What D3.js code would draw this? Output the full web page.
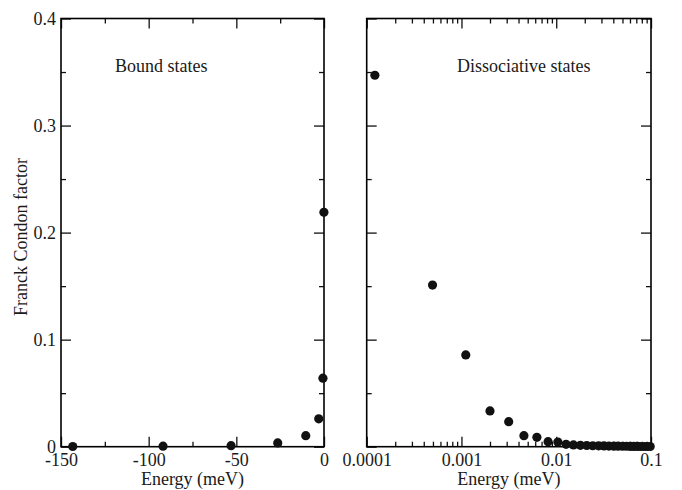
<!DOCTYPE html>
<html>
<head>
<meta charset="utf-8">
<script src="https://cdn.jsdelivr.net/npm/d3@7"></script>
<style>
  html, body { margin: 0; padding: 0; background: #fff; }
  svg { display: block; }
  text { font-family: "Liberation Serif", "Times New Roman", serif; fill: #1a1a1a; }
</style>
</head>
<body>
<svg id="chart" width="682" height="490"></svg>
<script>
// Bound states: energy (meV) and Franck-Condon factor
const boundEnergy = [-143.3, -91.8, -53.0, -26.4, -10.4, -3.0, -0.6, -0.05];
const boundFC     = [0.0002, 0.0005, 0.001, 0.0035, 0.0103, 0.026, 0.064, 0.219];

// Dissociative states: energy (meV) and Franck-Condon factor
const dissEnergy = [0.000122, 0.000495, 0.00111, 0.0020, 0.00315, 0.00456, 0.00625, 0.0082,
                    0.0104, 0.0127, 0.0152, 0.018, 0.021, 0.0243, 0.028, 0.032, 0.036,
                    0.0405, 0.045, 0.050, 0.055, 0.0605, 0.066, 0.072, 0.078, 0.0845,
                    0.091, 0.098];
const dissFC     = [0.347, 0.151, 0.0857, 0.0334, 0.0234, 0.0103, 0.0088, 0.0047,
                    0.0044, 0.0022, 0.0017, 0.0013, 0.0011, 0.0009, 0.0008, 0.0007, 0.0006,
                    0.0005, 0.0005, 0.0004, 0.0004, 0.0003, 0.0003, 0.0003, 0.0002, 0.0002,
                    0.0002, 0.0002];

// Tick values
const yMajor = [0, 0.1, 0.2, 0.3, 0.4];
const yMinor = [0.05, 0.15, 0.25, 0.35];
const boundMajor = [-150, -100, -50, 0];
const boundMinor = [-125, -75, -25];
const dissMajor = [0.0001, 0.001, 0.01, 0.1];

const titleBound = "Bound states";
const titleDiss = "Dissociative states";
const xTitle = "Energy (meV)";
const yTitle = "Franck Condon factor";

const svg = d3.select("#chart");

const plotTop = 18.5, plotBottom = 446.7;
const leftPanel = { x0: 61, x1: 324 };
const rightPanel = { x0: 366.7, x1: 651 };

const y = d3.scaleLinear().domain([0, 0.4]).range([plotBottom, plotTop]);
const xB = d3.scaleLinear().domain([-150, 0]).range([leftPanel.x0, leftPanel.x1]);
const xD = d3.scaleLog().domain([0.0001, 0.1]).range([rightPanel.x0, rightPanel.x1]);

// minor ticks for the log axis: 2..9 within each decade
const dissMinor = [];
[0.0001, 0.001, 0.01].forEach(d => { for (let k = 2; k <= 9; k++) dissMinor.push(+(d * k).toPrecision(3)); });

const majorLen = 10, minorLen = 5;
const fmtY = d => d === 0 ? "0" : d3.format(".1f")(d);

function tickAxis(gen, values, len, transform, fmt, pad) {
  const g = svg.append("g")
    .attr("transform", transform)
    .call(gen.tickValues(values).tickSizeInner(len).tickSizeOuter(0)
      .tickPadding(pad || 6).tickFormat(fmt || (() => "")));
  g.select(".domain").remove();
  g.selectAll("line").attr("stroke", "#111").attr("stroke-width", 1.3);
  g.selectAll("text").attr("font-size", 18).style("font-family", '"Liberation Serif", serif').attr("fill", "#1a1a1a");
  return g;
}

function panel(xs, p, majorX, minorX, fmtX, showY) {
  // inward ticks on all four sides
  tickAxis(d3.axisBottom(xs), majorX, -majorLen, `translate(0,${plotBottom})`, fmtX, 7);
  tickAxis(d3.axisBottom(xs), minorX, -minorLen, `translate(0,${plotBottom})`);
  tickAxis(d3.axisTop(xs), majorX, -majorLen, `translate(0,${plotTop})`);
  tickAxis(d3.axisTop(xs), minorX, -minorLen, `translate(0,${plotTop})`);
  tickAxis(d3.axisLeft(y), yMajor, -majorLen, `translate(${p.x0},0)`, showY ? fmtY : null, 5);
  tickAxis(d3.axisLeft(y), yMinor, -minorLen, `translate(${p.x0},0)`);
  tickAxis(d3.axisRight(y), yMajor, -majorLen, `translate(${p.x1},0)`);
  tickAxis(d3.axisRight(y), yMinor, -minorLen, `translate(${p.x1},0)`);

  svg.append("rect")
    .attr("x", p.x0).attr("y", plotTop)
    .attr("width", p.x1 - p.x0).attr("height", plotBottom - plotTop)
    .attr("fill", "none").attr("stroke", "#000").attr("stroke-width", 1.6);

  svg.append("text")
    .attr("x", (p.x0 + p.x1) / 2).attr("y", 485)
    .attr("text-anchor", "middle").attr("font-size", 18)
    .text(xTitle);
}

panel(xB, leftPanel, boundMajor, boundMinor, d => d3.format("d")(d).replace("−", "-"), true);
panel(xD, rightPanel, dissMajor, dissMinor, d => String(d), false);

// y-axis title
svg.append("text")
  .attr("transform", "translate(27,237) rotate(-90)")
  .attr("text-anchor", "middle").attr("font-size", 18)
  .text(yTitle);

// panel titles
svg.append("text").attr("x", 115).attr("y", 72).attr("font-size", 18).text(titleBound);
svg.append("text").attr("x", 457).attr("y", 72).attr("font-size", 18).text(titleDiss);

// data points
svg.append("g").selectAll("circle")
  .data(boundEnergy.map((e, i) => [e, boundFC[i]]))
  .join("circle")
  .attr("cx", d => xB(d[0])).attr("cy", d => y(d[1]))
  .attr("r", 4.6).attr("fill", "#111");

svg.append("g").selectAll("circle")
  .data(dissEnergy.map((e, i) => [e, dissFC[i]]))
  .join("circle")
  .attr("cx", d => xD(d[0])).attr("cy", d => y(d[1]))
  .attr("r", 4.6).attr("fill", "#111");
</script>
</body>
</html>
